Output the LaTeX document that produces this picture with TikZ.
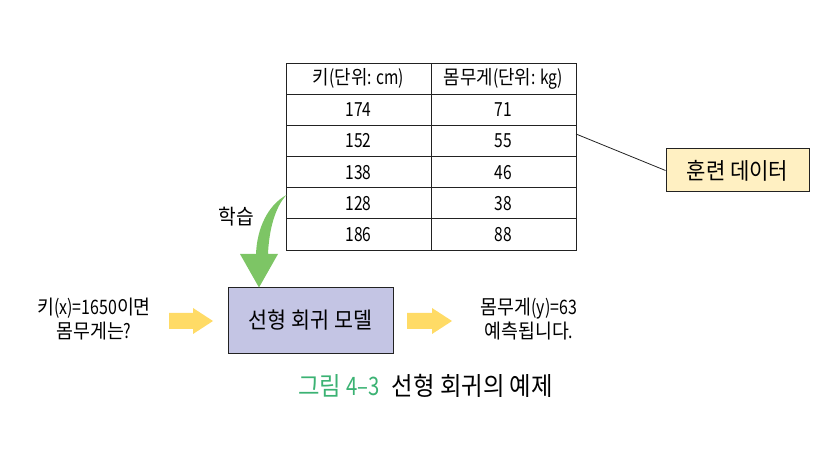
\documentclass[tikz,border=0pt]{standalone}
\usepackage{fontspec}
\setmainfont[FakeStretch=0.92]{Noto Sans CJK KR}
\newfontfamily\nr[FakeStretch=0.8]{Noto Sans CJK KR}
\usetikzlibrary{positioning}
\definecolor{tline}{HTML}{222222}
\definecolor{greenarr}{HTML}{7DC565}
\definecolor{yellarr}{HTML}{FFDB66}
\definecolor{modelfill}{HTML}{C4C5E4}
\definecolor{datafill}{HTML}{FFF0C2}
\definecolor{capgreen}{HTML}{3BB273}
\tikzset{
  cell/.style={draw=tline, line width=1bp, minimum width=145bp, minimum height=31.17bp, inner sep=0pt, font=\fontsize{19.5}{20}\selectfont},
  box/.style={draw=tline, line width=1bp, inner sep=0pt},
  lbl/.style={inner sep=0pt, align=center, font=\fontsize{20}{24}\selectfont},
}
\begin{document}
\begin{tikzpicture}[x=1bp,y=-1bp]
\useasboundingbox (0,0) rectangle (829,461);
% table
\foreach \r/\a/\b [count=\i] in {0/키{\nr(}단위{\nr: cm)}/몸무게{\nr(}단위{\nr: kg)},1/{\nr 174}/{\nr 71},2/{\nr 152}/{\nr 55},3/{\nr 138}/{\nr 46},4/{\nr 128}/{\nr 38},5/{\nr 186}/{\nr 88}}{
  \node[cell] (c\r1) at (358.5,{78.6+31.17*\r}) {\a};
  \node[cell] (c\r2) at (503.5,{78.6+31.17*\r}) {\b};
}
\coordinate (tp) at (576,134);
\coordinate (ts) at (286.5,195);
% training data box
\node[box, fill=datafill, minimum width=143bp, minimum height=43bp, font=\fontsize{23}{24}\selectfont] (data) at (737.5,170.5) {훈련 데이터};
\draw[tline, line width=0.8bp] (tp) -- (data.west);
% model box
\node[box, fill=modelfill, minimum width=165bp, minimum height=65bp, font=\fontsize{22.5}{24}\selectfont] (model) at (310.5,320.5) {선형 회귀 모델};
% green curved arrow
\fill[greenarr] (ts) .. controls (268,205) and (257,228) .. (256,254)
  -- (240,254) -- (model.north -| 259,0) -- (278,254) -- (268,254)
  .. controls (269,230) and (275,207) .. (ts) -- cycle;
\node[lbl, font=\fontsize{21}{24}\selectfont] (learn) at (236,217) {학습};
% left/right texts
\node[lbl] (q) at (94,319) {키{\nr(x)=1650}이면\\몸무게는{\nr?}};
\node[lbl] (ans) at (529,319) {몸무게{\nr(y)=63}\\예측됩니다{\nr.}};
% yellow block arrows
\fill[yellarr] (169,313) -- (193,313) -- (193,308) -- (213,321) -- (193,334) -- (193,329) -- (169,329) -- cycle;
\fill[yellarr] (407,313) -- (432,313) -- (432,308) -- (452,321) -- (432,334) -- (432,329) -- (407,329) -- cycle;
% caption
\node[inner sep=0pt, anchor=west, font=\fontsize{25.5}{28}\selectfont] (cap) at (298,386) {\textcolor{capgreen}{그림 {\nr 4–3}}\hspace{12bp}선형 회귀의 예제};
\end{tikzpicture}
\end{document}
